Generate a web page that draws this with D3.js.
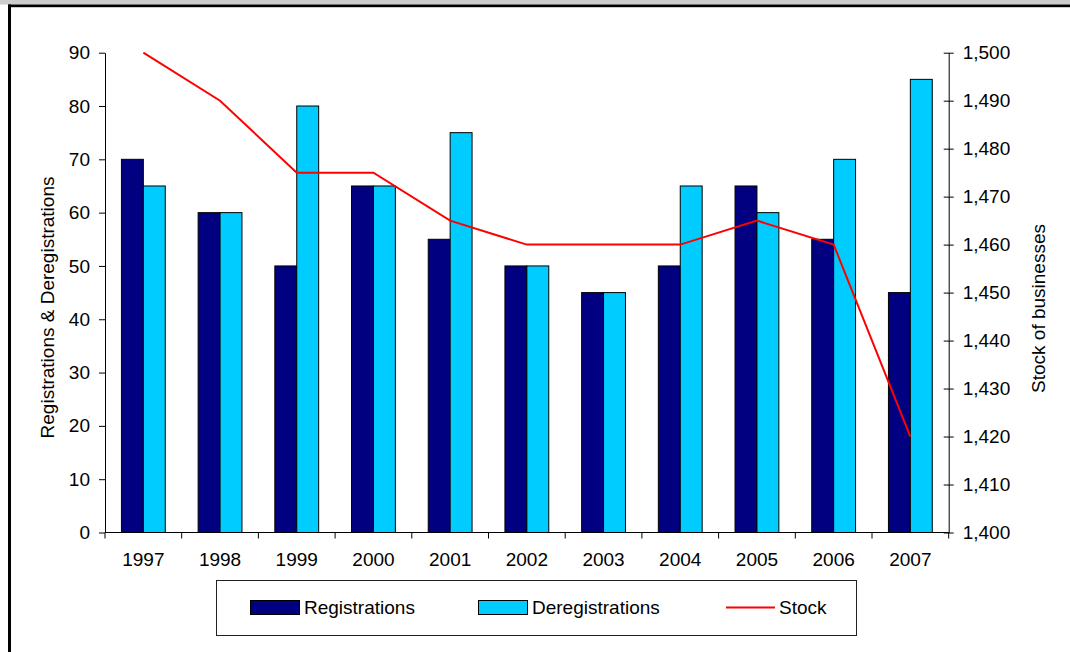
<!DOCTYPE html>
<html>
<head>
<meta charset="utf-8">
<script src="https://cdn.jsdelivr.net/npm/d3@7"></script>
<style>
  html, body { margin: 0; padding: 0; background: #fff; }
  svg { display: block; font-family: "Liberation Sans", Arial, sans-serif; }
</style>
</head>
<body>
<svg id="chart" width="1070" height="652"></svg>
<script>
// Business registrations, deregistrations and stock, 1997-2007
const years = ["1997","1998","1999","2000","2001","2002","2003","2004","2005","2006","2007"];
const registrations   = [70, 60, 50, 65, 55, 50, 45, 50, 65, 55, 45];
const deregistrations = [65, 60, 80, 65, 75, 50, 45, 65, 60, 70, 85];
const stock = [1500, 1490, 1475, 1475, 1465, 1460, 1460, 1460, 1465, 1460, 1420];
const leftTicks  = [0, 10, 20, 30, 40, 50, 60, 70, 80, 90];
const rightTicks = [1400, 1410, 1420, 1430, 1440, 1450, 1460, 1470, 1480, 1490, 1500];
const seriesNames = ["Registrations", "Deregistrations", "Stock"];
const colours = { reg: "#000080", dereg: "#00CCFF", stock: "#FF0000" };
const FONT = 19;

const svg = d3.select("#chart");

// page frame: grey strip on top, black rule and left edge
svg.append("rect").attr("x", 0).attr("y", 0).attr("width", 1070).attr("height", 4.5).attr("fill", "#cccccc");
svg.append("rect").attr("x", 8).attr("y", 4.5).attr("width", 1062).attr("height", 2.7).attr("fill", "#000");
svg.append("rect").attr("x", 8).attr("y", 4.5).attr("width", 3).attr("height", 648).attr("fill", "#000");

const plot = { left: 105, right: 948.7, top: 52.7, bottom: 532.5 };

const x = d3.scaleBand().domain(years).range([plot.left, plot.right]).paddingInner(0).paddingOuter(0);
const xSub = d3.scaleBand().domain(["reg", "dereg"]).range([0, x.bandwidth()]).paddingInner(0).paddingOuter(0.75);
const yL = d3.scaleLinear().domain([0, 90]).range([plot.bottom, plot.top]);
const yR = d3.scaleLinear().domain([1400, 1500]).range([plot.bottom, plot.top]);

// bars
const groups = svg.append("g").selectAll("g").data(years).join("g")
  .attr("transform", d => `translate(${x(d)},0)`);
groups.append("rect")
  .attr("x", xSub("reg")).attr("width", xSub.bandwidth())
  .attr("y", (d, i) => yL(registrations[i]))
  .attr("height", (d, i) => yL(0) - yL(registrations[i]))
  .attr("fill", colours.reg).attr("stroke", "#000").attr("stroke-width", 1);
groups.append("rect")
  .attr("x", xSub("dereg")).attr("width", xSub.bandwidth())
  .attr("y", (d, i) => yL(deregistrations[i]))
  .attr("height", (d, i) => yL(0) - yL(deregistrations[i]))
  .attr("fill", colours.dereg).attr("stroke", "#000").attr("stroke-width", 1);

// stock line on the secondary axis
const line = d3.line()
  .x((d, i) => x(years[i]) + x.bandwidth() / 2)
  .y(d => yR(d));
svg.append("path").datum(stock)
  .attr("d", line).attr("fill", "none")
  .attr("stroke", colours.stock).attr("stroke-width", 2);

// axes
function styleAxis(g) {
  g.selectAll("path.domain").attr("stroke", "#000").attr("stroke-width", 1);
  g.selectAll(".tick line").attr("stroke", "#000").attr("stroke-width", 1);
  g.selectAll(".tick text").attr("fill", "#000").attr("font-size", FONT)
    .attr("font-family", "'Liberation Sans', Arial, sans-serif");
}

svg.append("g").attr("transform", `translate(${plot.left},0)`)
  .call(d3.axisLeft(yL).tickValues(leftTicks).tickSizeInner(6).tickSizeOuter(0).tickPadding(9))
  .call(styleAxis);

const axR = svg.append("g").attr("transform", `translate(${plot.right},0)`)
  .call(d3.axisRight(yR).tickValues(rightTicks).tickFormat(d3.format(",")).tickSizeInner(5).tickSizeOuter(0).tickPadding(9))
  .call(styleAxis);
axR.selectAll(".tick line").attr("x1", -5).attr("x2", 5);

// category axis with ticks on band boundaries
const axB = svg.append("g").attr("transform", `translate(0,${plot.bottom})`)
  .call(d3.axisBottom(x).tickSize(0).tickPadding(20))
  .call(styleAxis);
axB.select("path.domain").attr("d", `M${plot.left},0H${plot.right}`);
axB.selectAll(".boundary").data(years.concat(["end"])).join("line")
  .attr("class", "boundary")
  .attr("x1", (d, i) => i < years.length ? x(d) : plot.right)
  .attr("x2", (d, i) => i < years.length ? x(d) : plot.right)
  .attr("y1", 0).attr("y2", 6).attr("stroke", "#000");

// axis titles
svg.append("text")
  .attr("transform", `translate(54,307.5) rotate(-90)`)
  .attr("text-anchor", "middle").attr("font-size", FONT).attr("fill", "#000")
  .text("Registrations & Deregistrations");
svg.append("text")
  .attr("transform", `translate(1045,308.5) rotate(-90)`)
  .attr("text-anchor", "middle").attr("font-size", FONT).attr("fill", "#000")
  .text("Stock of businesses");

// legend
const legend = svg.append("g");
legend.append("rect").attr("x", 216.5).attr("y", 580.5).attr("width", 640).attr("height", 55)
  .attr("fill", "#fff").attr("stroke", "#222").attr("stroke-width", 1);
const items = [
  { name: seriesNames[0], type: "bar", colour: colours.reg, x: 250, tx: 304 },
  { name: seriesNames[1], type: "bar", colour: colours.dereg, x: 478, tx: 532 },
  { name: seriesNames[2], type: "line", colour: colours.stock, x: 726, tx: 779 }
];
items.forEach(it => {
  if (it.type === "bar") {
    legend.append("rect").attr("x", it.x + 0.5).attr("y", 600.5).attr("width", 49).attr("height", 14)
      .attr("fill", it.colour).attr("stroke", "#000").attr("stroke-width", 1);
  } else {
    legend.append("line").attr("x1", it.x).attr("x2", it.x + 49).attr("y1", 607.5).attr("y2", 607.5)
      .attr("stroke", it.colour).attr("stroke-width", 2);
  }
  legend.append("text").attr("x", it.tx).attr("y", 614).attr("font-size", FONT).attr("fill", "#000")
    .text(it.name);
});
</script>
</body>
</html>
